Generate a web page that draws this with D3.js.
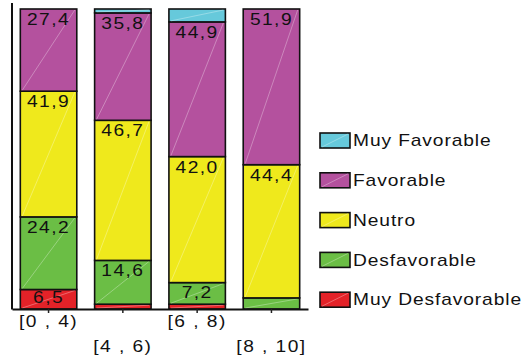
<!DOCTYPE html>
<html>
<head>
<meta charset="utf-8">
<script src="https://cdn.jsdelivr.net/npm/d3@7"></script>
<style>
  html, body { margin: 0; padding: 0; background: #fff; }
  svg { display: block; font-family: "Liberation Sans", Arial, sans-serif; }
</style>
</head>
<body>
<svg id="chart" width="526" height="360"></svg>
<script>
// Score ranges (x categories)
const categories = ["[0 , 4)", "[4 , 6)", "[6 , 8)", "[8 , 10]"];

// Response levels, stacked bottom to top
const levels = ["Muy Desfavorable", "Desfavorable", "Neutro", "Favorable", "Muy Favorable"];
const colors = ["#e32228", "#6bbe45", "#efe91c", "#b4519e", "#66c9db"];

// Percentage per level, one value per category
const muyDesfavorable = [6.5, 1.6, 1.6, 0.0];
const desfavorable    = [24.2, 14.6, 7.2, 3.7];
const neutro          = [41.9, 46.7, 42.0, 44.4];
const favorable       = [27.4, 35.8, 44.9, 51.9];
const muyFavorable    = [0.0, 1.3, 4.3, 0.0];

const seriesValues = [muyDesfavorable, desfavorable, neutro, favorable, muyFavorable];

const rows = categories.map((c, i) => {
  const r = { cat: c };
  levels.forEach((l, k) => { r[l] = seriesValues[k][i]; });
  return r;
});

const svg = d3.select("#chart");
const STRETCH = 1.2;   // wide lettering

const x = d3.scaleBand()
  .domain(categories)
  .range([12, 308])
  .paddingInner(0.24)
  .paddingOuter(0.112);

const y = d3.scaleLinear().domain([0, 100]).range([309, 9]);

const stacked = d3.stack().keys(levels)(rows);

const fmt = v => d3.format(".1f")(v).replace(".", ",");

// Stacked segments
const layer = svg.append("g").selectAll("g")
  .data(stacked)
  .join("g")
  .attr("fill", (d, i) => colors[i]);

const seg = layer.selectAll("g")
  .data(d => d.map(p => ({ p, key: d.key })))
  .join("g")
  .filter(d => d.p[1] - d.p[0] > 0);

seg.append("rect")
  .attr("x", d => x(d.p.data.cat))
  .attr("y", d => y(d.p[1]))
  .attr("width", x.bandwidth())
  .attr("height", d => y(d.p[0]) - y(d.p[1]))
  .attr("stroke", "#111")
  .attr("stroke-width", 1.6);

// faint sheen across each block
seg.append("line")
  .attr("x1", d => x(d.p.data.cat) + 2)
  .attr("y1", d => y(d.p[0]) - 1)
  .attr("x2", d => x(d.p.data.cat) + x.bandwidth() - 2)
  .attr("y2", d => y(d.p[1]) + 1)
  .attr("stroke", "#fff")
  .attr("stroke-opacity", 0.45)
  .attr("stroke-width", 0.7);

// Value labels
seg.filter(d => d.p[1] - d.p[0] >= 5)
  .append("text")
  .attr("transform", d => {
    const cx = x(d.p.data.cat) + x.bandwidth() / 2;
    const by = Math.min(y(d.p[1]) + 16, y(d.p[0]) - 6);
    return `translate(${cx},${by}) scale(${STRETCH},1)`;
  })
  .attr("text-anchor", "middle")
  .attr("font-size", 16)
  .attr("letter-spacing", 1.2)
  .attr("fill", "#111")
  .text(d => fmt(d.p[1] - d.p[0]));

// Y axis line
svg.append("line")
  .attr("x1", 12).attr("x2", 12)
  .attr("y1", y(0) + 0.5).attr("y2", y(102))
  .attr("stroke", "#111").attr("stroke-width", 2);

// X axis
const xAxis = svg.append("g")
  .attr("transform", `translate(0,${y(0)})`)
  .call(d3.axisBottom(x).tickSize(4).tickSizeOuter(0));

xAxis.select(".domain").attr("stroke", "#111").attr("stroke-width", 2);
xAxis.selectAll(".tick line").attr("stroke", "#222").attr("stroke-width", 1.5);
xAxis.selectAll(".tick text")
  .attr("font-size", 16)
  .attr("letter-spacing", 1.2)
  .attr("fill", "#111")
  .attr("font-family", "Liberation Sans, Arial, sans-serif")
  .attr("y", 0)
  .attr("transform", (d, i) => `translate(0,${i % 2 === 0 ? 7 : 32}) scale(${STRETCH},1)`)
  .attr("dy", "0.71em");

// Legend, top level first
const legendItems = levels.map((l, i) => ({ l, c: colors[i] })).reverse();
const legend = svg.append("g").attr("transform", "translate(320,0)");
const li = legend.selectAll("g")
  .data(legendItems)
  .join("g")
  .attr("transform", (d, i) => `translate(0,${140.5 + i * 39.8})`);

li.append("rect")
  .attr("x", 0).attr("y", -7.5)
  .attr("width", 30).attr("height", 15)
  .attr("fill", d => d.c)
  .attr("stroke", "#111").attr("stroke-width", 1.6);

li.append("line")
  .attr("x1", 2).attr("y1", 6.5).attr("x2", 28).attr("y2", -6.5)
  .attr("stroke", "#fff").attr("stroke-opacity", 0.45).attr("stroke-width", 0.7);

li.append("text")
  .attr("transform", `translate(33,0) scale(${STRETCH},1)`)
  .attr("dy", "0.36em")
  .attr("font-size", 16)
  .attr("letter-spacing", 0.75)
  .attr("fill", "#111")
  .text(d => d.l);
</script>
</body>
</html>
